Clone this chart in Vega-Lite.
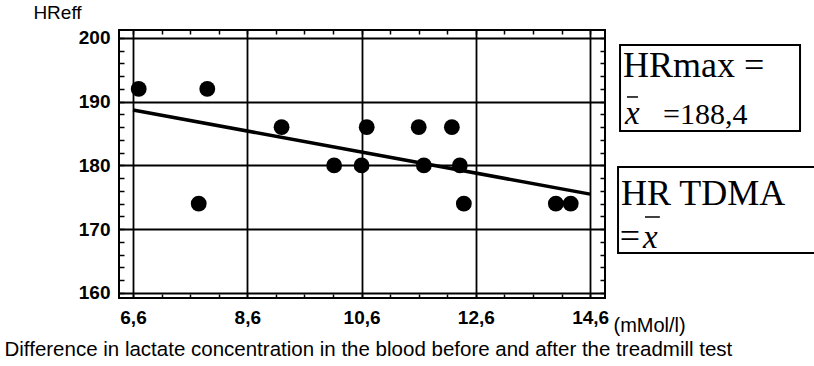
{
  "$schema": "https://vega.github.io/schema/vega-lite/v6.json",
  "width": 486,
  "height": 268,
  "autosize": {"type": "none"},
  "padding": {"left": 119, "top": 30, "right": 209, "bottom": 68},
  "background": "white",
  "config": {
    "view": {"stroke": "black", "strokeWidth": 2},
    "axis": {
      "labelFont": "Liberation Sans",
      "titleFont": "Liberation Sans",
      "labelColor": "black",
      "titleColor": "black",
      "tickColor": "black",
      "gridColor": "black",
      "domain": false,
      "labelOverlap": false,
      "labelFlush": false
    },
    "text": {"font": "Liberation Serif", "align": "left", "baseline": "alphabetic", "color": "black"}
  },
  "resolve": {"axis": {"x": "independent", "y": "independent"}},
  "layer": [
    {
      "data": {"values": [
        {"lactate": 6.7, "hr": 192},
        {"lactate": 7.9, "hr": 192},
        {"lactate": 7.75, "hr": 174},
        {"lactate": 9.2, "hr": 186},
        {"lactate": 10.12, "hr": 180},
        {"lactate": 10.6, "hr": 180},
        {"lactate": 10.69, "hr": 186},
        {"lactate": 11.6, "hr": 186},
        {"lactate": 11.69, "hr": 180},
        {"lactate": 12.18, "hr": 186},
        {"lactate": 12.32, "hr": 180},
        {"lactate": 12.39, "hr": 174},
        {"lactate": 14.0, "hr": 174},
        {"lactate": 14.26, "hr": 174}
      ]},
      "mark": {"type": "circle", "size": 250, "opacity": 1, "color": "black"},
      "encoding": {
        "x": {
          "field": "lactate", "type": "quantitative",
          "scale": {"domain": [6.355, 14.86], "nice": false, "zero": false},
          "axis": {
            "orient": "bottom",
            "values": [6.6, 7.1, 7.6, 8.1, 8.6, 9.1, 9.6, 10.1, 10.6, 11.1, 11.6, 12.1, 12.6, 13.1, 13.6, 14.1, 14.6],
            "labelExpr": "round((datum.value-6.6)*10) % 20 == 0 ? replace(format(datum.value, '.1f'), '.', ',') : ''",
            "labelFontSize": 19,
            "labelFontWeight": "bold",
            "labelPadding": 14,
            "tickSize": -4,
            "tickWidth": 1.5,
            "grid": true,
            "gridWidth": 1.8,
            "gridOpacity": {"condition": {"test": "round((datum.value-6.6)*10) % 20 == 0", "value": 1}, "value": 0},
            "title": "Difference in lactate concentration in the blood before and after the treadmill test",
            "titleFontSize": 20.5,
            "titleFontWeight": "normal",
            "titleX": -115,
            "titleY": 57,
            "titleAlign": "left",
            "titleBaseline": "alphabetic"
          }
        },
        "y": {
          "field": "hr", "type": "quantitative",
          "scale": {"domain": [159.2, 201.25], "nice": false, "zero": false},
          "axis": {
            "orient": "left",
            "values": [160, 162, 164, 166, 168, 170, 172, 174, 176, 178, 180, 182, 184, 186, 188, 190, 192, 194, 196, 198, 200],
            "labelExpr": "datum.value % 10 == 0 ? datum.label : ''",
            "labelFontSize": 19,
            "labelFontWeight": "bold",
            "labelPadding": 14,
            "tickSize": -5,
            "tickWidth": 1.5,
            "grid": true,
            "gridWidth": 1.8,
            "gridOpacity": {"condition": {"test": "datum.value % 10 == 0", "value": 1}, "value": 0},
            "title": "HReff",
            "titleAngle": 0,
            "titleFontSize": 19,
            "titleFontWeight": "normal",
            "titleX": -62,
            "titleY": -12,
            "titleAlign": "center",
            "titleBaseline": "alphabetic"
          }
        }
      }
    },
    {
      "data": {"values": [
        {"lactate": 6.6, "hr": 188.7},
        {"lactate": 14.6, "hr": 175.5}
      ]},
      "mark": {"type": "line", "color": "black", "strokeWidth": 3.5},
      "encoding": {
        "x": {
          "field": "lactate", "type": "quantitative",
          "scale": {"domain": [6.355, 14.86], "nice": false, "zero": false},
          "axis": {
            "orient": "top",
            "values": [6.6, 7.1, 7.6, 8.1, 8.6, 9.1, 9.6, 10.1, 10.6, 11.1, 11.6, 12.1, 12.6, 13.1, 13.6, 14.1, 14.6],
            "labels": false,
            "tickSize": -4,
            "tickWidth": 1.5,
            "grid": false,
            "title": "(mMol/l)",
            "titleFontSize": 20,
            "titleFontWeight": "normal",
            "titleX": 494,
            "titleY": 301,
            "titleAlign": "left",
            "titleBaseline": "alphabetic"
          }
        },
        "y": {
          "field": "hr", "type": "quantitative",
          "scale": {"domain": [159.2, 201.25], "nice": false, "zero": false},
          "axis": {
            "orient": "right",
            "values": [160, 162, 164, 166, 168, 170, 172, 174, 176, 178, 180, 182, 184, 186, 188, 190, 192, 194, 196, 198, 200],
            "labels": false,
            "tickSize": -5,
            "tickWidth": 1.5,
            "grid": false,
            "title": null
          }
        }
      }
    },
    {
      "data": {"values": [
        {"x1": 15.123, "x2": 18.273, "y1": 198.9, "y2": 185.4},
        {"x1": 15.088, "x2": 18.973, "y1": 179.75, "y2": 166.26}
      ]},
      "mark": {"type": "rect", "filled": false, "color": "black", "strokeWidth": 2},
      "encoding": {
        "x": {"field": "x1", "type": "quantitative", "scale": {"domain": [6.355, 14.86], "nice": false, "zero": false}, "axis": null},
        "x2": {"field": "x2"},
        "y": {"field": "y1", "type": "quantitative", "scale": {"domain": [159.2, 201.25], "nice": false, "zero": false}, "axis": null},
        "y2": {"field": "y2"}
      }
    },
    {
      "data": {"values": [
        {"x": 15.175, "y": 193.88, "t": "HRmax ="},
        {"x": 15.14, "y": 173.79, "t": "HR TDMA"},
        {"x": 15.12, "y": 167.04, "t": "="}
      ]},
      "mark": {"type": "text", "fontSize": 36},
      "encoding": {
        "x": {"field": "x", "type": "quantitative", "scale": {"domain": [6.355, 14.86], "nice": false, "zero": false}, "axis": null},
        "y": {"field": "y", "type": "quantitative", "scale": {"domain": [159.2, 201.25], "nice": false, "zero": false}, "axis": null},
        "text": {"field": "t"}
      }
    },
    {
      "data": {"values": [
        {"x": 15.875, "y": 186.5, "t": "=188,4"}
      ]},
      "mark": {"type": "text", "fontSize": 30},
      "encoding": {
        "x": {"field": "x", "type": "quantitative", "scale": {"domain": [6.355, 14.86], "nice": false, "zero": false}, "axis": null},
        "y": {"field": "y", "type": "quantitative", "scale": {"domain": [159.2, 201.25], "nice": false, "zero": false}, "axis": null},
        "text": {"field": "t"}
      }
    },
    {
      "data": {"values": [
        {"x": 15.21, "y": 186.5, "t": "x"},
        {"x": 15.525, "y": 167.04, "t": "x"}
      ]},
      "mark": {"type": "text", "fontSize": 33, "fontStyle": "italic"},
      "encoding": {
        "x": {"field": "x", "type": "quantitative", "scale": {"domain": [6.355, 14.86], "nice": false, "zero": false}, "axis": null},
        "y": {"field": "y", "type": "quantitative", "scale": {"domain": [159.2, 201.25], "nice": false, "zero": false}, "axis": null},
        "text": {"field": "t"}
      }
    },
    {
      "data": {"values": [
        {"x1": 15.245, "x2": 15.437, "y": 190.74},
        {"x1": 15.56, "x2": 15.82, "y": 171.91}
      ]},
      "mark": {"type": "rule", "color": "black", "strokeWidth": 1.5},
      "encoding": {
        "x": {"field": "x1", "type": "quantitative", "scale": {"domain": [6.355, 14.86], "nice": false, "zero": false}, "axis": null},
        "x2": {"field": "x2"},
        "y": {"field": "y", "type": "quantitative", "scale": {"domain": [159.2, 201.25], "nice": false, "zero": false}, "axis": null}
      }
    }
  ]
}
